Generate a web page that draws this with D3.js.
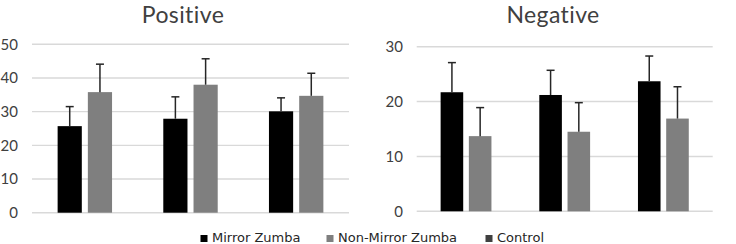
<!DOCTYPE html>
<html>
<head>
<meta charset="utf-8">
<script src="https://cdn.jsdelivr.net/npm/d3@7"></script>
<style>
  html, body { margin: 0; padding: 0; background: #fff; }
  svg { display: block; }
</style>
</head>
<body>
<svg id="chart" width="736" height="244"></svg>
<script>
// ---- data ----
const categories = ["T1", "T2", "T3"];
const seriesNames = ["Mirror Zumba", "Non-Mirror Zumba", "Control"];
const positiveMirror = [25.7, 27.9, 30.1];
const positiveMirrorSD = [5.8, 6.5, 4.0];
const positiveNonMirror = [35.8, 38.0, 34.7];
const positiveNonMirrorSD = [8.3, 7.7, 6.7];
const negativeMirror = [21.7, 21.2, 23.7];
const negativeMirrorSD = [5.4, 4.5, 4.6];
const negativeNonMirror = [13.7, 14.5, 16.9];
const negativeNonMirrorSD = [5.2, 5.3, 5.8];
const positiveTicks = [0, 10, 20, 30, 40, 50];
const negativeTicks = [0, 10, 20, 30];

const colors = { "Mirror Zumba": "#000000", "Non-Mirror Zumba": "#7f7f7f", "Control": "#404040" };

const svg = d3.select("#chart");

function panel(cfg) {
  const g = svg.append("g");
  const y = d3.scaleLinear().domain([0, cfg.max]).range([cfg.y0, cfg.y1]);
  const x = d3.scaleBand().domain(categories).range([cfg.x0, cfg.x1]).padding(0);
  const groupW = x.bandwidth() * 0.515;
  const inner = d3.scaleBand().domain(cfg.series.map(s => s.name))
    .range([x.bandwidth() / 2 - groupW / 2, x.bandwidth() / 2 + groupW / 2])
    .paddingInner(0.2).paddingOuter(0);

  // gridlines
  g.selectAll("line.grid").data(cfg.ticks).enter().append("line")
    .attr("x1", cfg.x0).attr("x2", cfg.x1)
    .attr("y1", d => y(d)).attr("y2", d => y(d))
    .attr("stroke", "#d9d9d9").attr("stroke-width", 1.4);

  // tick labels
  g.selectAll("text.tick").data(cfg.ticks).enter().append("text")
    .attr("x", cfg.labelX).attr("y", d => y(d))
    .attr("dy", "0.35em").attr("text-anchor", "end")
    .attr("font-family", "Lato, 'Open Sans', sans-serif").attr("font-size", 15)
    .attr("fill", "#404040").text(d => d);

  // bars
  cfg.series.forEach(s => {
    const data = categories.map((c, i) => ({ c, v: s.values[i], sd: s.sd[i] }));
    g.selectAll(null).data(data).enter().append("rect")
      .attr("x", d => x(d.c) + inner(s.name))
      .attr("y", d => y(d.v))
      .attr("width", inner.bandwidth())
      .attr("height", d => y(0) - y(d.v))
      .attr("fill", colors[s.name]);
    // error bars (upper)
    const cx = d => x(d.c) + inner(s.name) + inner.bandwidth() / 2;
    g.selectAll(null).data(data).enter().append("line")
      .attr("x1", cx).attr("x2", cx)
      .attr("y1", d => y(d.v)).attr("y2", d => y(d.v + d.sd))
      .attr("stroke", "#262626").attr("stroke-width", 1.5);
    g.selectAll(null).data(data).enter().append("line")
      .attr("x1", d => cx(d) - 4).attr("x2", d => cx(d) + 4)
      .attr("y1", d => y(d.v + d.sd)).attr("y2", d => y(d.v + d.sd))
      .attr("stroke", "#262626").attr("stroke-width", 1.5);
  });

  // title
  g.append("text")
    .attr("x", cfg.titleX).attr("y", 22.8)
    .attr("text-anchor", "middle")
    .attr("font-family", "Lato, 'Open Sans', sans-serif").attr("font-size", 23)
    .attr("letter-spacing", 0.4)
    .attr("fill", "#404040").text(cfg.title);
}

panel({
  title: "Positive", titleX: 183, max: 50, ticks: positiveTicks,
  x0: 32, x1: 349, y0: 212.7, y1: 44.3, labelX: 18,
  series: [
    { name: "Mirror Zumba", values: positiveMirror, sd: positiveMirrorSD },
    { name: "Non-Mirror Zumba", values: positiveNonMirror, sd: positiveNonMirrorSD }
  ]
});

panel({
  title: "Negative", titleX: 553, max: 30, ticks: negativeTicks,
  x0: 416.7, x1: 712.7, y0: 211.3, y1: 46.7, labelX: 403,
  series: [
    { name: "Mirror Zumba", values: negativeMirror, sd: negativeMirrorSD },
    { name: "Non-Mirror Zumba", values: negativeNonMirror, sd: negativeNonMirrorSD }
  ]
});

// legend
const legendX = [200.5, 326.5, 485.5];
const legend = svg.append("g");
seriesNames.forEach((name, i) => {
  legend.append("rect").attr("x", legendX[i]).attr("y", 235).attr("width", 7).attr("height", 7)
    .attr("fill", colors[name]);
  legend.append("text").attr("x", legendX[i] + 11.5).attr("y", 242.3)
    .attr("font-family", "'DejaVu Sans', Verdana, sans-serif").attr("font-size", 13)
    .attr("fill", "#262626").text(name);
});
</script>
</body>
</html>
